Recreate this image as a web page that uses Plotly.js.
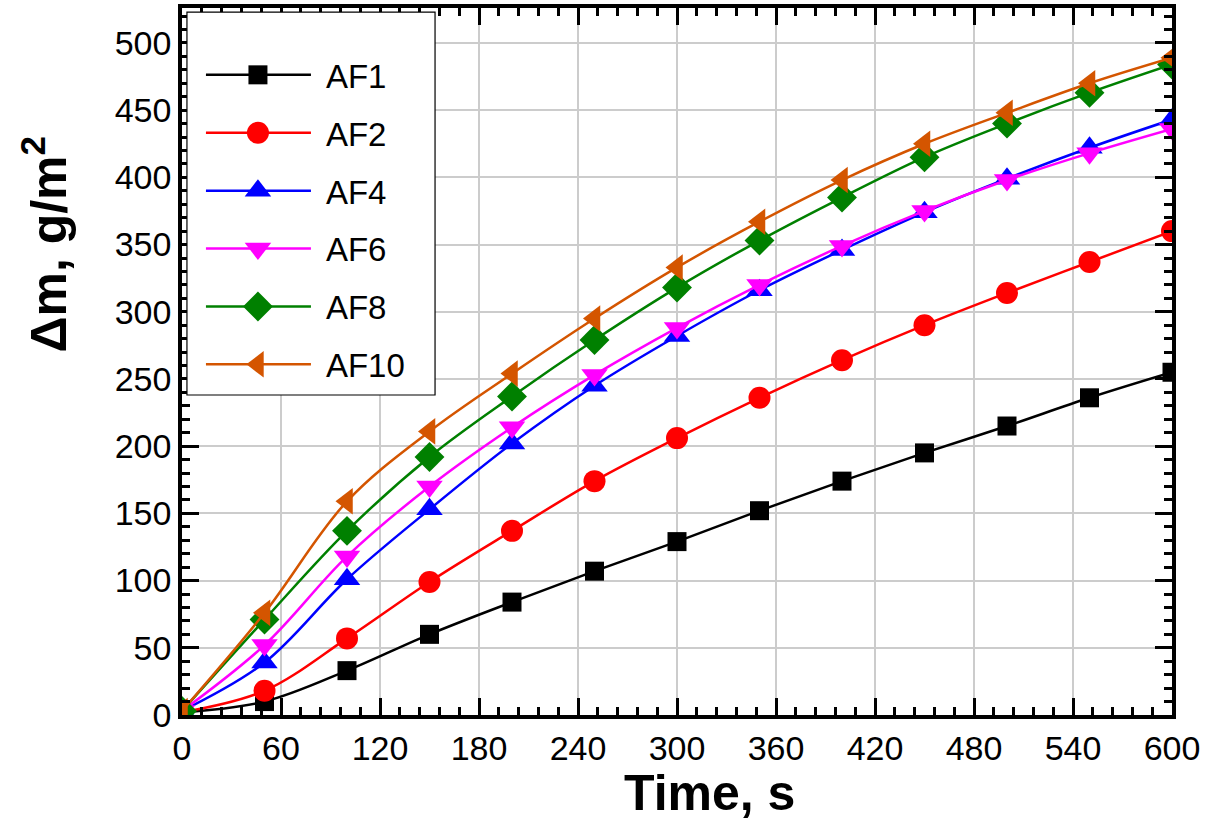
<!DOCTYPE html>
<html>
<head>
<meta charset="utf-8">
<script src="https://cdn.plot.ly/plotly-3.0.1.min.js"></script>
<style>html,body{margin:0;padding:0;background:#fff;}#chart{width:1207px;height:825px;}</style>
</head>
<body>
<div id="chart"></div>
<script>
const time = [0, 50, 100, 150, 200, 250, 300, 350, 400, 450, 500, 550, 600];
const af1  = [2, 10, 33, 60, 84, 107, 129, 152, 174, 195, 215, 236, 255];
const af2  = [2, 18, 57, 99, 137, 174, 206, 236, 264, 290, 314, 337, 360];
const af4  = [3, 39, 101, 153, 202, 245, 282, 316, 346, 374, 399, 422, 443];
const af6  = [3, 52, 118, 170, 214, 253, 288, 320, 349, 375, 398, 418, 436];
const af8  = [3, 71, 137, 192, 237, 279, 318, 353, 385, 415, 440, 463, 484];
const af10 = [3, 76, 159, 211, 254, 295, 333, 367, 398, 425, 448, 470, 489];

const names = ['AF1', 'AF2', 'AF4', 'AF6', 'AF8', 'AF10'];
const series = [af1, af2, af4, af6, af8, af10];
const colors = ['#000000', '#FF0000', '#0000FF', '#FF00FF', '#008000', '#D45500'];
const symbols = ['square', 'circle', 'triangle-up', 'triangle-down', 'diamond', 'triangle-left'];
const sizes = [19, 22, 23, 23, 23, 23];

const xTitle = 'Time, s';
const yTitle = 'Δm, g/m<sup>2</sup>';
const FONT = 'Liberation Sans, Arial, sans-serif';

const traces = series.map((ys, i) => ({
  x: time, y: ys, name: names[i], type: 'scatter', mode: 'lines+markers',
  legendgroup: names[i],
  line: {color: colors[i], width: 2.5, shape: 'spline', smoothing: 1},
  marker: {color: colors[i], symbol: symbols[i], size: sizes[i]}
}));

const axisCommon = {
  showline: true, linecolor: '#000', linewidth: 3.5, mirror: 'allticks',
  ticks: 'inside', ticklen: 17, tickwidth: 3, tickcolor: '#000',
  showgrid: true, gridcolor: '#cccccc', gridwidth: 1.5, zeroline: false,
  tickfont: {family: FONT, size: 34, color: '#000'}
};

const layout = {
  width: 1207, height: 825,
  margin: {l: 182, r: 35, t: 8, b: 110},
  paper_bgcolor: '#fff', plot_bgcolor: '#fff',
  showlegend: true,
  legend: {
    x: 0.005, y: 0.945, xanchor: 'left', yanchor: 'top',
    bgcolor: 'rgba(0,0,0,0)', borderwidth: 0,
    font: {family: FONT, size: 33, color: '#000'},
    traceorder: 'grouped', tracegroupgap: 12, itemwidth: 129
  },
  shapes: [{
    type: 'rect', xref: 'paper', yref: 'paper', layer: 'above',
    x0: 0.005, x1: 0.2556, y0: 0.4526, y1: 0.9943,
    fillcolor: '#fff', line: {color: '#000', width: 1.2}
  }],
  annotations: [
    {text: xTitle, xref: 'paper', yref: 'paper', x: 0.5328, y: -0.111, xanchor: 'center', yanchor: 'middle',
     showarrow: false, font: {family: FONT, size: 50, color: '#000', weight: 'bold'}},
    {text: yTitle, xref: 'paper', yref: 'paper', x: -0.138, y: 0.666, xanchor: 'center', yanchor: 'middle',
     textangle: -90, showarrow: false, font: {family: FONT, size: 50, color: '#000', weight: 'bold'}}
  ],
  xaxis: Object.assign({}, axisCommon, {
    range: [0, 600], tickmode: 'linear', tick0: 0, dtick: 60,
    minor: {dtick: 12, ticks: 'inside', ticklen: 8, tickwidth: 2.5, tickcolor: '#000', showgrid: false}
  }),
  yaxis: Object.assign({}, axisCommon, {
    range: [0, 526], tickmode: 'linear', tick0: 0, dtick: 50,
    minor: {dtick: 10, ticks: 'inside', ticklen: 8, tickwidth: 2.5, tickcolor: '#000', showgrid: false}
  })
};

Plotly.newPlot('chart', traces, layout, {displayModeBar: false}).then(gd => {
  const plotTraces = gd.querySelectorAll('.scatterlayer .trace');
  gd.querySelectorAll('.legend .traces').forEach((g, i) => {
    g.querySelectorAll('.legendlines path').forEach(p => p.setAttribute('d', 'M19,0h105'));
    const src = plotTraces[i] ? plotTraces[i].querySelector('.points path') : null;
    g.querySelectorAll('.legendsymbols path').forEach(p => {
      if (src) p.setAttribute('d', src.getAttribute('d'));
      p.setAttribute('transform', 'translate(71,0)');
    });
  });
});
</script>
</body>
</html>
